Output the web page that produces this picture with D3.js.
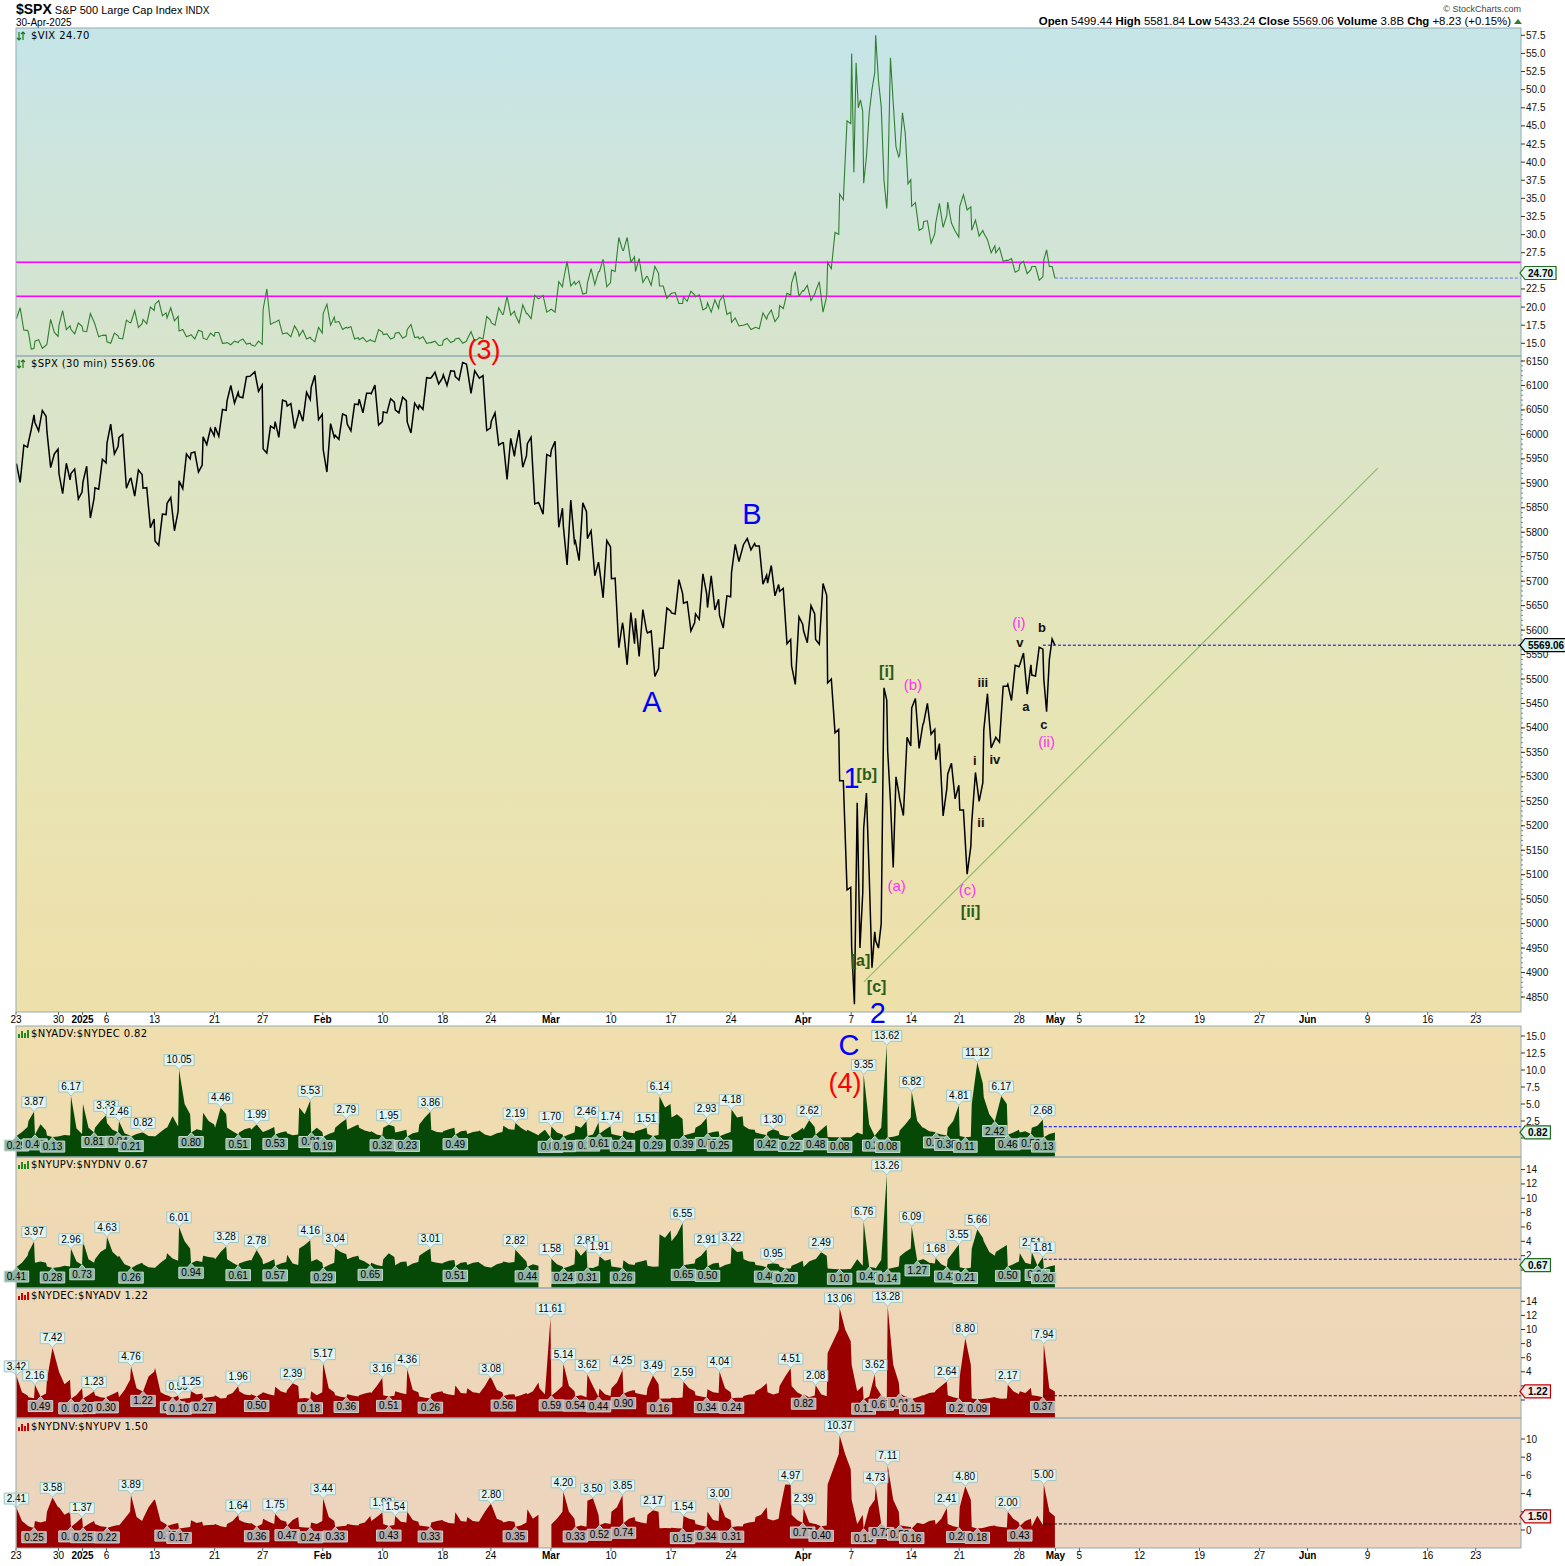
<!DOCTYPE html>
<html><head><meta charset="utf-8">
<script src="https://cdn.jsdelivr.net/npm/d3@7/dist/d3.min.js"></script>
<style>
body{margin:0;background:#fff}
svg{display:block}
text{font-family:"Liberation Sans",Arial,sans-serif}
.ttl{font-family:"DejaVu Sans",sans-serif;font-size:10px;letter-spacing:0.4px}
</style>
</head><body>
<svg id="c" width="1565" height="1566"></svg>
<script>
// ---------------- DATA ----------------
const holidays = ["2024-12-25","2025-01-01","2025-01-09","2025-01-20","2025-02-17","2025-04-18","2025-05-26","2025-06-19"];
const halfDays = {"2024-12-24":7};

const tickDates = ["2024-12-23","2024-12-30","2025-01-02","2025-01-06","2025-01-13","2025-01-21","2025-01-27","2025-02-03","2025-02-10","2025-02-18","2025-02-24","2025-03-03","2025-03-10","2025-03-17","2025-03-24","2025-04-01","2025-04-07","2025-04-14","2025-04-21","2025-04-28","2025-05-01","2025-05-05","2025-05-12","2025-05-19","2025-05-27","2025-06-02","2025-06-09","2025-06-16","2025-06-23"];
const tickLabels = ["23","30","2025","6","13","21","27","Feb","10","18","24","Mar","10","17","24","Apr","7","14","21","28","May","5","12","19","27","Jun","9","16","23"];

const vixTicks = [15,17.5,20,22.5,25,27.5,30,32.5,35,37.5,40,42.5,45,47.5,50,52.5,55,57.5];
const spxTicks = [4850,4900,4950,5000,5050,5100,5150,5200,5250,5300,5350,5400,5450,5500,5550,5600,5650,5700,5750,5800,5850,5900,5950,6000,6050,6100,6150];
const p1Ticks = [0,2.5,5,7.5,10,12.5,15];
const p2Ticks = [0,2,4,6,8,10,12,14];
const p3Ticks = [0,2,4,6,8,10,12,14];
const p4Ticks = [0,2,4,6,8,10];

// SPX 30-min path, sampled per session (intraday order)
const spx = [
[5940,5902,5978,5974],[5984,6010,6040],[6024,6007,6049,6037],[6006,5932,5960,5970],[5920,5879,5941,5907],
[5920,5929,5868,5882],[5903,5935,5829,5869],[5891,5888,5949,5942],[5982,6021,5960,5975],[5994,6000,5890,5909],
[5910,5874,5927,5918],[5890,5891,5809,5827],[5782,5773,5837,5836],[5859,5871,5803,5843],[5905,5889,5960,5950],
[5962,5964,5923,5937],[5995,5979,6012,5997],[6015,5996,6051,6049],[6069,6100,6064,6086],[6077,6075,6118,6119],
[6121,6128,6088,6101],[5970,5962,6017,6012],[6026,5994,6070,6067],[6058,6063,6012,6039],[6050,6027,6086,6071],
[6096,6121,6030,6041],[5969,5923,6022,5994],[5998,5990,6042,6038],[6021,6007,6062,6061],[6072,6044,6084,6084],
[6083,6101,6019,6026],[6046,6044,6073,6066],[6050,6044,6076,6069],[6025,6003,6064,6052],[6060,6051,6116,6115],
[6116,6127,6103,6115],[6122,6100,6130,6129],[6118,6111,6147,6144],[6134,6084,6130,6118],[6115,6120,6008,6013],
[6027,6044,5978,5983],[5983,5908,5992,5955],[5970,6009,5933,5956],[5981,5994,5858,5861],[5857,5837,5959,5955],
[5968,5986,5810,5849],[5811,5733,5866,5778],[5782,5742,5860,5842],[5787,5803,5711,5739],[5726,5666,5783,5770],
[5705,5706,5564,5615],[5603,5529,5636,5572],[5624,5546,5642,5599],[5594,5598,5505,5522],[5563,5563,5645,5639],
[5635,5633,5703,5675],[5655,5658,5598,5615],[5633,5622,5715,5675],[5646,5711,5641,5663],[5630,5604,5670,5668],
[5718,5775,5740,5768],[5775,5787,5764,5777],[5772,5772,5694,5712],[5696,5732,5670,5693],[5679,5685,5572,5581],
[5527,5489,5627,5612],[5598,5574,5650,5633],[5581,5571,5695,5671],[5492,5500,5390,5397],[5292,5292,5069,5074],
[4953,4835,5247,4950,5062],[5194,5267,5100,4910,4983],[4965,4950,5000,5482,5457],[5353,5250,5115,5300,5268],[5255,5221,5381,5363],
[5441,5460,5358,5406],[5411,5450,5387,5397],[5335,5368,5220,5276],[5306,5328,5255,5283],[5232,5232,5101,5158],
[5207,5309,5250,5288],[5395,5470,5359,5376],[5381,5371,5485,5485],[5489,5456,5528,5525],[5529,5553,5469,5529],
[5508,5506,5565,5561],[5499,5433,5540,5582,5569.06]
];

// VIX 30-min path, sampled per session
const vix = [
[18.4,19.9,16.8,16.78],[16.5,14.2,14.27],[15.3,15.5,14.3,14.73],[14.9,18.3,16.5,15.95],[17.5,19.5,16.9,17.4],
[16.9,16.3,17.8,17.35],[16.7,16.6,19.1,17.93],[17.6,15.9,16.1,16.13],[15.2,15.0,16.4,16.04],[15.7,15.6,18.2,17.82],
[17.9,19.5,17.2,17.7],[18.3,17.7,20.0,19.54],[20.4,20.9,18.8,19.19],[18.5,19.9,18.1,18.71],[16.7,16.9,15.9,16.12],
[16.2,15.6,16.8,16.6],[15.7,15.5,16.4,15.97],[16.5,16.5,15.0,15.06],[15.1,14.8,15.3,15.1],[15.3,15.6,14.9,15.02],
[14.8,14.6,15.3,14.85],[19.7,22.5,17.6,17.9],[17.9,18.2,16.3,16.41],[16.4,15.9,17.4,16.56],[16.0,16.8,15.6,15.84],
[15.6,15.2,17.2,16.43],[19.1,20.4,17.5,18.62],[17.9,18.0,16.9,17.21],[17.1,17.3,15.6,15.77],[15.5,15.8,15.2,15.5],
[15.4,15.2,16.9,16.54],[16.2,16.3,15.6,15.81],[16.4,16.5,15.7,16.02],[16.9,17.6,15.8,15.89],[15.6,15.9,15.0,15.1],
[15.1,15.3,14.7,14.77],[15.4,15.7,15.1,15.35],[15.6,15.7,15.0,15.27],[15.6,16.6,15.3,15.66],[15.8,15.6,18.7,18.21],
[17.8,17.5,19.9,18.98],[19.0,21.5,18.9,19.43],[18.9,17.8,20.3,19.1],[19.1,18.4,21.6,21.13],[21.2,21.6,19.3,19.63],
[19.7,19.3,23.5,22.78],[23.7,26.3,22.9,23.51],[23.1,23.6,21.8,21.93],[23.3,25.3,23.1,24.87],[24.9,26.6,22.8,23.37],
[25.1,24.9,29.6,27.86],[27.8,29.6,26.2,26.92],[24.9,26.7,23.4,24.23],[24.2,23.0,25.6,24.66],[22.9,22.9,21.2,21.77],
[21.9,22.0,20.5,20.51],[21.4,20.8,22.2,21.7],[21.4,21.7,19.6,19.9],[20.6,19.3,21.0,19.8],[20.8,21.6,19.0,19.28],
[17.9,18.5,17.4,17.48],[17.5,17.7,16.9,17.15],[17.2,17.0,19.2,18.33],[18.8,19.6,18.0,18.69],[20.2,19.8,21.9,21.65],
[23.3,24.9,21.5,22.28],[22.2,23.0,20.9,21.77],[22.2,23.5,19.3,21.51],[26.2,25.3,30.3,30.02],[35.6,34.8,45.7,45.31],
[55.0,38.6,53.7,47.5,48.6,46.98],[37.1,40.7,46.8,50.0,52.33],[57.5,51.3,47.7,37.5,33.62],[36.2,54.4,48.2,42.1,40.72],[41.0,46.8,44.0,37.0,37.56],
[33.9,34.4,30.6,30.89],[31.8,31.9,28.8,30.12],[31.6,34.3,31.0,32.64],[34.5,31.6,30.5,29.65],[33.9,35.5,33.4,33.82],
[30.6,32.0,29.8,30.57],[30.2,29.3,27.5,28.45],[27.5,28.2,26.3,26.47],[26.4,26.7,24.8,25.1],[25.9,26.3,24.6,25.15],
[25.6,25.6,23.7,24.17],[26.5,27.9,25.6,25.6,24.0]
];

// $NYADV:$NYDEC intraday samples per session (start, middle, end)
const advDec = [
[0.29,0.9,1.6],[2.5,3.2,3.87],[0.46,2.04,1.1],[0.35,0.135,0.22],[0.25,0.45,0.35],
[6.17,1.4,0.6],[5.0,1.5,0.81],[1.5,2.5,3.33],[2.2,1.2,0.84],[2.46,0.7,0.35],
[0.21,0.6,0.8],[0.82,0.3,0.25],[0.22,0.9,1.5],[1.5,3.2,1.69],[10.05,5.0,3.5],
[0.80,1.3,1.1],[3.7,2.5,2.0],[1.5,4.46,3.5],[1.5,1.0,0.51],[0.8,1.3,1.5],
[1.2,1.99,1.0],[0.9,1.2,1.6],[0.53,0.8,1.0],[0.7,0.42,0.5],[4.5,3.5,5.53],
[0.81,1.5,0.9],[0.19,0.6,0.9],[1.5,2.2,2.79],[1.2,1.6,2.0],[1.5,1.1,0.9],
[1.0,0.5,0.32],[1.5,1.95,1.7],[0.8,1.0,1.2],[0.23,0.7,0.9],[2.0,3.0,3.86],
[1.2,0.9,0.8],[1.0,1.3,1.5],[0.49,1.0,1.1],[0.6,0.9,1.0],[1.1,0.5,0.3],
[0.325,0.7,0.9],[1.79,1.3,1.2],[2.19,1.5,1.0],[1.2,0.8,0.4],[0.6,1.2,0.086],
[1.70,0.8,0.5],[0.195,0.5,0.8],[1.85,1.5,2.46],[0.276,0.5,2.27],[0.61,1.2,1.74],
[0.6,0.4,0.235],[1.11,0.8,0.7],[1.0,1.2,1.51],[0.6,0.287,0.45],[6.14,4.5,5.0],
[3.0,3.5,2.8],[0.386,0.6,0.8],[1.5,2.0,2.93],[0.65,0.9,1.0],[0.2475,0.6,0.9],
[4.18,3.0,3.2],[1.8,1.3,1.2],[0.8,0.6,0.42],[0.9,1.30,1.0],[0.5,0.3,0.222],
[0.5,0.9,1.5],[1.22,2.62,1.6],[0.48,1.2,1.9],[0.15,0.12,0.1],[0.0766,0.1,0.12],
[0.2,0.8,0.5],[9.35,2.0,0.276],[0.5,1.5,13.62],[0.0753,0.2,0.4],[1.1,2.0,3.0],
[6.82,2.5,1.5],[1.5,1.0,0.9],[0.74,0.5,0.379],[1.5,2.5,4.81],[0.3,0.114,0.2],
[5.0,11.12,8.0],[6.0,3.5,2.42],[3.0,6.17,5.0],[0.46,0.8,1.2],[0.8,1.0,0.59],
[1.5,1.8,2.68],[0.126,0.6,0.82]
];

// $NYUPV:$NYDNV intraday samples per session (start, middle, end)
const upDnVol = [
[0.41,1.0,2.0],[2.5,3.2,3.97],[1.0,1.2,1.0],[0.5,0.28,0.4],[0.4,0.6,0.5],
[2.96,1.2,0.73],[4.0,1.5,1.0],[1.5,2.5,3.0],[4.63,2.5,1.8],[2.0,0.8,0.5],
[0.26,0.7,1.0],[0.8,0.4,0.3],[0.3,1.0,1.6],[2.33,1.6,1.3],[6.01,4.0,3.0],
[0.94,1.3,1.1],[2.0,1.8,1.7],[1.5,2.5,3.28],[1.5,1.0,0.61],[0.9,1.2,1.4],
[1.3,2.78,1.5],[0.8,1.1,1.5],[0.57,0.9,1.1],[2.13,0.9,0.7],[3.0,3.5,4.16],
[1.2,1.5,1.0],[0.29,0.7,1.0],[3.04,2.5,2.2],[1.5,1.8,2.0],[1.5,1.2,0.65],
[1.0,0.7,0.52],[1.5,2.33,1.8],[0.65,1.1,1.2],[0.5,0.9,1.1],[2.0,2.5,3.01],
[1.2,1.0,0.9],[1.0,1.3,1.4],[0.51,1.0,1.1],[0.7,1.0,1.1],[1.0,0.5,0.35],
[0.357,0.8,1.0],[1.2,1.0,1.1],[2.82,2.0,1.2],[0.44,0.8,0.6],[null,null,null],
[1.58,0.8,0.5],[0.238,0.5,0.8],[3.0,2.0,2.81],[0.31,0.286,0.6],[1.91,1.3,1.5],
[0.5,0.4,0.26],[1.35,0.8,0.7],[1.0,1.2,1.4],[0.6,0.46,0.5],[5.0,4.5,5.5],
[4.0,5.0,6.55],[0.65,0.8,0.9],[1.5,2.0,2.91],[0.50,0.9,1.0],[0.33,0.7,0.9],
[3.22,2.5,2.6],[1.5,1.2,1.1],[0.7,0.6,0.40],[0.8,0.95,0.8],[0.5,0.20,0.201],
[0.6,0.9,1.3],[0.418,1.2,1.5],[1.5,2.49,2.0],[0.2,0.15,0.12],[0.0964,0.12,0.15],
[0.3,1.5,0.6],[6.76,0.41,0.3],[0.211,1.39,13.26],[0.1406,0.3,0.5],[1.89,2.5,3.0],
[6.09,1.27,1.5],[1.5,1.0,0.9],[1.68,0.8,0.415],[1.5,2.5,3.55],[0.4,0.208,0.3],
[3.0,5.66,4.5],[4.0,2.5,2.0],[2.5,3.0,3.5],[0.50,0.8,1.2],[2.33,1.0,0.8],
[2.51,0.64,1.81],[0.20,0.5,0.67]
];
// last intraday bar readings (dashed markers)
const advDecLastBar = 1.66, upDnVolLastBar = 1.5;

// peak / trough labels: [session index, sample (0 start,1 mid,2 end), value]
const p1Peaks = [[1,2,3.87],[5,0,6.17],[7,2,3.33],[9,0,2.46],[11,0,0.82],[14,0,10.05],[17,1,4.46],[20,1,1.99],[24,2,5.53],[27,2,2.79],[31,1,1.95],[34,2,3.86],[42,0,2.19],[45,0,1.70],[47,2,2.46],[49,2,1.74],[52,2,1.51],[54,0,6.14],[57,2,2.93],[60,0,4.18],[63,1,1.30],[66,1,2.62],[71,0,9.35],[72,2,13.62],[75,0,6.82],[78,2,4.81],[80,1,11.12],[82,1,6.17],[85,2,2.68]];
const p1Troughs = [[0,0,0.29],[2,0,0.46],[3,1,0.13],[6,2,0.81],[8,2,0.84],[10,0,0.21],[15,0,0.80],[18,2,0.51],[22,0,0.53],[25,0,0.81],[26,0,0.19],[30,2,0.32],[33,0,0.23],[37,0,0.49],[44,2,0.09],[46,0,0.19],[48,0,0.28],[49,0,0.61],[50,2,0.24],[53,1,0.29],[56,0,0.39],[58,0,0.65],[59,0,0.25],[62,2,0.42],[64,2,0.22],[67,0,0.48],[69,0,0.08],[71,2,0.28],[73,0,0.08],[77,0,0.74],[77,2,0.38],[79,1,0.11],[81,2,2.42],[83,0,0.46],[84,2,0.59],[86,0,0.13]];
const p2Peaks = [[1,2,3.97],[5,0,2.96],[8,0,4.63],[14,0,6.01],[17,2,3.28],[20,1,2.78],[24,2,4.16],[27,0,3.04],[34,2,3.01],[42,0,2.82],[45,0,1.58],[47,2,2.81],[49,0,1.91],[55,2,6.55],[57,2,2.91],[60,0,3.22],[63,1,0.95],[67,1,2.49],[71,0,6.76],[72,2,13.26],[75,0,6.09],[77,0,1.68],[78,2,3.55],[80,1,5.66],[85,0,2.51],[85,2,1.81]];
const p2Troughs = [[0,0,0.41],[3,1,0.28],[5,2,0.73],[10,0,0.26],[15,0,0.94],[18,2,0.61],[22,0,0.57],[26,0,0.29],[29,2,0.65],[37,0,0.51],[43,0,0.44],[46,0,0.24],[48,0,0.31],[50,2,0.26],[56,0,0.65],[58,0,0.50],[62,2,0.40],[64,1,0.20],[69,0,0.10],[71,1,0.41],[73,0,0.14],[75,1,1.27],[77,2,0.42],[79,1,0.21],[83,0,0.50],[85,1,0.64],[86,0,0.20]];
const p3Peaks = [[0,0,3.42],[2,0,2.16],[3,1,7.42],[6,2,1.23],[10,0,4.76],[13,2,0.59],[15,0,1.25],[18,2,1.96],[23,1,2.39],[26,0,5.17],[30,2,3.16],[33,0,4.36],[40,0,3.08],[44,2,11.61],[46,0,5.14],[48,0,3.62],[50,2,4.25],[53,1,3.49],[56,0,2.59],[59,0,4.04],[64,2,4.51],[67,0,2.08],[69,0,13.06],[71,2,3.62],[73,0,13.28],[77,2,2.64],[79,1,8.80],[83,0,2.17],[86,0,7.94]];
const p3Troughs = [[2,1,0.49],[5,0,0.16],[6,0,0.20],[7,2,0.30],[11,0,1.22],[13,1,0.31],[14,0,0.10],[16,0,0.27],[20,1,0.50],[24,2,0.18],[27,2,0.36],[31,1,0.51],[34,2,0.26],[41,0,0.56],[45,0,0.59],[47,0,0.54],[48,2,0.44],[51,0,0.90],[54,0,0.16],[57,2,0.34],[60,0,0.24],[66,0,0.82],[71,0,0.11],[72,1,0.67],[74,0,0.91],[75,0,0.15],[78,2,0.21],[80,1,0.09],[85,2,0.37]];
const p4Peaks = [[0,0,2.41],[3,1,3.58],[5,2,1.37],[10,0,3.89],[18,2,1.64],[22,0,1.75],[26,0,3.44],[30,2,1.93],[32,0,1.54],[40,0,2.80],[46,0,4.20],[48,1,3.50],[50,2,3.85],[53,1,2.17],[56,0,1.54],[59,0,3.00],[64,2,4.97],[66,0,2.39],[69,0,10.37],[72,0,4.73],[73,0,7.11],[77,2,2.41],[79,1,4.80],[83,0,2.00],[86,0,5.00]];
const p4Troughs = [[1,2,0.25],[5,0,0.34],[6,0,0.25],[8,0,0.22],[13,0,0.43],[14,0,0.17],[20,1,0.36],[23,0,0.47],[24,2,0.24],[27,0,0.33],[31,1,0.43],[34,2,0.33],[42,0,0.35],[47,0,0.33],[49,0,0.52],[51,0,0.74],[55,2,0.15],[57,2,0.34],[60,0,0.31],[65,2,0.77],[67,1,0.40],[71,0,0.15],[72,1,0.72],[74,0,0.53],[75,0,0.16],[78,2,0.28],[80,1,0.18],[84,0,0.43]];

// Elliott wave annotations: text, session position, SPX level, degree
const waveText   = ["(3)","A","B","(4)","C","1","2","[a]","[b]","[c]","[i]","[ii]","(a)","(b)","(c)","(i)","(ii)","i","ii","iii","iv","v","a","b","c"];
const wavePos    = [39.42,53.41,61.73,69.48,69.81,70.03,72.22,70.78,71.3,72.12,72.95,79.94,73.78,75.14,79.69,83.96,86.27,80.3,80.8,80.96,81.96,84.05,84.55,85.88,86.05];
const waveLevel  = [6172,5453,5837,4674,4752,5298,4817,4924,5304,4871,5515,5024,5077,5488,5069,5615,5373,5334,5206,5492,5336,5574,5443,5606,5407];
const waveDegree = ["P","I","I","P","I","I","I","m","m","m","m","m","u","u","u","u","u","s","s","s","s","s","s","s","s"];
// trend line: [session position, level]
const trendFrom = [71.06,4881], trendTo = [113.85,5931];
// VIX horizontal levels
const vixLevels = [26.18,21.5];

// ---------------- LAYOUT / STYLE ----------------
const L = 16, R = 1521;
const waveStyle = {
  P:{fill:"#ff0000",size:27,weight:"normal"},
  I:{fill:"#0000ff",size:29,weight:"normal"},
  m:{fill:"#2c5a18",size:16,weight:"bold"},
  u:{fill:"#ff33ee",size:15,weight:"normal"},
  s:{fill:"#111",size:13,weight:"bold"}
};

const svg = d3.select("#c");
svg.append("rect").attr("width",1565).attr("height",1566).attr("fill","#fff");
const defs = svg.append("defs");
function grad(id, stops){
  const g = defs.append("linearGradient").attr("id",id).attr("x1",0).attr("y1",0).attr("x2",0).attr("y2",1);
  stops.forEach(([o,c])=>g.append("stop").attr("offset",o).attr("stop-color",c));
}
grad("gVix",[[0,"#c5e5e8"],[1,"#d8e4cc"]]);
grad("gSpx",[[0,"#d8e4cd"],[0.5,"#e6e5b7"],[1,"#efe0aa"]]);
grad("gP1",[[0,"#efdeae"],[1,"#efdcb1"]]);
grad("gP2",[[0,"#efdbb2"],[1,"#eed8b6"]]);
grad("gP3",[[0,"#eed8b7"],[1,"#edd6bb"]]);
grad("gP4",[[0,"#edd6bb"],[1,"#ecd4bf"]]);

// calendar of sessions
const hol = new Set(holidays);
const days = []; let bar = 0;
for (let d = new Date(Date.UTC(2024,11,23)); d <= new Date(Date.UTC(2025,5,27)); d.setUTCDate(d.getUTCDate()+1)) {
  const wd = d.getUTCDay(); if (wd===0 || wd===6) continue;
  const key = d.toISOString().slice(0,10); if (hol.has(key)) continue;
  const n = halfDays[key] || 13;
  days.push({key, start:bar, n}); bar += n;
}
const dayIndex = new Map(days.map((d,i)=>[d.key,i]));
const x = d3.scaleLinear().domain([0,1629]).range([L,R]);
const sampleX = (di,k,m) => { const d = days[di]; return x(d.start + 0.5 + (m>1 ? k/(m-1) : 0)*(d.n-1)); };
const posX = f => { const i = Math.floor(f), d = days[i]; return x(d.start + (f-i)*d.n); };

const panels = {
  vix:{top:28,bottom:356,y:d3.scaleLinear().domain([15,57.5]).range([343.3,35.3]),fill:"url(#gVix)"},
  spx:{top:356,bottom:1012,y:d3.scaleLinear().domain([4850,6150]).range([997,361]),fill:"url(#gSpx)"},
  p1:{top:1026,bottom:1157,y:d3.scaleLinear().domain([0,15]).range([1138,1036]),fill:"url(#gP1)"},
  p2:{top:1157,bottom:1288,y:d3.scaleLinear().domain([0,14]).range([1270,1169.6]),fill:"url(#gP2)"},
  p3:{top:1288,bottom:1418,y:d3.scaleLinear().domain([0,14]).range([1400,1301.3]),fill:"url(#gP3)"},
  p4:{top:1418,bottom:1548,y:d3.scaleLinear().domain([0,10]).range([1530,1439]),fill:"url(#gP4)"}
};
Object.entries(panels).forEach(([k,p])=>{
  svg.append("rect").attr("x",L).attr("y",p.top).attr("width",R-L).attr("height",p.bottom-p.top).attr("fill",p.fill);
  defs.append("clipPath").attr("id","cl"+k).append("rect").attr("x",L).attr("y",p.top).attr("width",R-L).attr("height",p.bottom-p.top);
});

// ---------------- HEADER ----------------
const hd = svg.append("text").attr("x",16).attr("y",14).attr("font-size",11);
hd.append("tspan").attr("font-weight","bold").attr("font-size",14).text("$SPX");
hd.append("tspan").text(" S&P 500 Large Cap Index ");
hd.append("tspan").attr("font-size",10).text(" INDX");
svg.append("text").attr("x",16).attr("y",26).attr("font-size",10).text("30-Apr-2025");
svg.append("text").attr("x",1521).attr("y",12).attr("text-anchor","end").attr("font-size",9).attr("fill","#444").text("\u00a9 StockCharts.com");
const ohlc = svg.append("text").attr("x",1511).attr("y",25).attr("text-anchor","end").attr("font-size",11.4);
[["Open","5499.44"],["High","5581.84"],["Low","5433.24"],["Close","5569.06"],["Volume","3.8B"],["Chg","+8.23 (+0.15%)"]].forEach(([a,b],i)=>{
  ohlc.append("tspan").attr("font-weight","bold").text((i?"  ":"")+a+" ");
  ohlc.append("tspan").text(b);
});
svg.append("path").attr("d","M1514,24 L1518,19 L1522,24 Z").attr("fill","#2e7d32");

// ---------------- VIX ----------------
const gv = svg.append("g").attr("clip-path","url(#clvix)");
vixLevels.forEach(v=>gv.append("line").attr("x1",L).attr("x2",R).attr("y1",panels.vix.y(v)).attr("y2",panels.vix.y(v)).attr("stroke","#ff00ff").attr("stroke-width",1.6));
const vixPts = []; vix.forEach((vals,di)=>vals.forEach((v,k)=>vixPts.push([sampleX(di,k,vals.length),panels.vix.y(v)])));
gv.append("path").attr("d",d3.line()(vixPts)).attr("fill","none").attr("stroke","#2f7f2f").attr("stroke-width",1.1);
const vLast = vix[vix.length-1][vix[vix.length-1].length-1];
gv.append("line").attr("x1",vixPts[vixPts.length-1][0]).attr("x2",R).attr("y1",panels.vix.y(vLast)).attr("y2",panels.vix.y(vLast)).attr("stroke","#6a72ff").attr("stroke-dasharray","3,2");

// ---------------- SPX ----------------
const gs = svg.append("g").attr("clip-path","url(#clspx)");
const spxPts = []; spx.forEach((vals,di)=>vals.forEach((v,k)=>spxPts.push([sampleX(di,k,vals.length),panels.spx.y(v)])));
gs.append("line").attr("x1",posX(trendFrom[0])).attr("y1",panels.spx.y(trendFrom[1])).attr("x2",posX(trendTo[0])).attr("y2",panels.spx.y(trendTo[1])).attr("stroke","#8dbd6a").attr("stroke-width",1.2);
gs.append("path").attr("d",d3.line()(spxPts)).attr("fill","none").attr("stroke","#000").attr("stroke-width",1.5);
const sLast = spx[spx.length-1][spx[spx.length-1].length-1];
gs.append("line").attr("x1",sampleX(85,3,4)).attr("x2",R).attr("y1",panels.spx.y(sLast)).attr("y2",panels.spx.y(sLast)).attr("stroke","#0000ff").attr("stroke-dasharray","3,2");

// ---------------- BREADTH ----------------
const recip = arr => arr.map(d=>d.map(v=>v==null?null:1/v));
const breadth = [
  {key:"p1",data:advDec,peaks:p1Peaks,troughs:p1Troughs,color:"#064806",tfill:"#90b4a4",tstroke:"#c3dcd0",last:advDecLastBar,dash:"#0000ff"},
  {key:"p2",data:upDnVol,peaks:p2Peaks,troughs:p2Troughs,color:"#064806",tfill:"#90b4a4",tstroke:"#c3dcd0",last:upDnVolLastBar,dash:"#0000ff"},
  {key:"p3",data:recip(advDec),peaks:p3Peaks,troughs:p3Troughs,color:"#9a0000",tfill:"#b3a9a7",tstroke:"#d6cfcd",last:1/advDecLastBar,dash:"#000"},
  {key:"p4",data:recip(upDnVol),peaks:p4Peaks,troughs:p4Troughs,color:"#9a0000",tfill:"#b3a9a7",tstroke:"#d6cfcd",last:1/upDnVolLastBar,dash:"#000"}
];
breadth.forEach(b=>{
  const p = panels[b.key];
  const g = svg.append("g").attr("clip-path","url(#cl"+b.key+")");
  const pts = []; b.data.forEach((vals,di)=>vals.forEach((v,k)=>pts.push({x:sampleX(di,k,vals.length),v})));
  const area = d3.area().defined(d=>d.v!=null).x(d=>d.x).y0(p.bottom).y1(d=>p.y(Math.min(d.v,30)));
  g.append("path").attr("d",area(pts)).attr("fill",b.color);
  g.append("line").attr("x1",sampleX(86,0,3)).attr("x2",R).attr("y1",p.y(b.last)).attr("y2",p.y(b.last)).attr("stroke",b.dash).attr("stroke-dasharray","3,2");
});
const labelLayer = svg.append("g");
breadth.forEach(b=>{
  const p = panels[b.key];
  b.troughs.forEach(([di,k,v])=>tag(labelLayer,sampleX(di,k,3),p.y(v),v.toFixed(2),false,b.tfill,b.tstroke));
  b.peaks.forEach(([di,k,v])=>tag(labelLayer,sampleX(di,k,3),p.y(v),v.toFixed(2),true,"#e2f4f2","#9fc6c4"));
});
function tag(g,px,py,txt,peak,fill,stroke){
  const gg = g.append("g");
  const path = gg.append("path");
  const t = gg.append("text").attr("x",px).attr("text-anchor","middle").attr("font-size",10).attr("fill","#000").text(txt);
  const w = t.node().getComputedTextLength()+5, h=11;
  if (peak){
    const yb = py-4;
    t.attr("y",yb-2.2);
    path.attr("d",`M${px-w/2},${yb-h}H${px+w/2}V${yb}H${px+3.5}L${px},${py}L${px-3.5},${yb}H${px-w/2}Z`);
  } else {
    const yt = py+4;
    t.attr("y",yt+9);
    path.attr("d",`M${px-w/2},${yt}H${px-3.5}L${px},${py}L${px+3.5},${yt}H${px+w/2}V${yt+h}H${px-w/2}Z`);
  }
  path.attr("fill",fill).attr("stroke",stroke).attr("stroke-width",1);
}

// ---------------- BORDERS & AXES ----------------
Object.values(panels).forEach(p=>{
  svg.append("rect").attr("x",L).attr("y",p.top).attr("width",R-L).attr("height",p.bottom-p.top).attr("fill","none").attr("stroke","#93abb3").attr("stroke-width",1);
});
function rightAxis(p,ticks,fmt,boxVal,minor){
  const g = svg.append("g");
  if (minor) minor.forEach(v=>g.append("line").attr("x1",R).attr("x2",R+2).attr("y1",p.y(v)).attr("y2",p.y(v)).attr("stroke","#6f8a92"));
  ticks.forEach(v=>{
    g.append("line").attr("x1",R).attr("x2",R+4).attr("y1",p.y(v)).attr("y2",p.y(v)).attr("stroke","#333");
    if (Math.abs(p.y(v)-p.y(boxVal))<9) return;
    g.append("text").attr("x",R+5).attr("y",p.y(v)+3.5).attr("font-size",10).attr("fill","#111").text(fmt(v));
  });
}
rightAxis(panels.vix,vixTicks,d3.format(".1f"),24.70);
rightAxis(panels.spx,spxTicks,d3.format("d"),5569.06,d3.range(4850,6151,10));
rightAxis(panels.p1,p1Ticks,d3.format(".1f"),0.82);
rightAxis(panels.p2,p2Ticks,d3.format("d"),0.67);
rightAxis(panels.p3,p3Ticks,d3.format("d"),1.22);
rightAxis(panels.p4,p4Ticks,d3.format("d"),1.50);

function priceBox(yv,txt,stroke,fill){
  const g = svg.append("g");
  const path = g.append("path");
  const t = g.append("text").attr("x",R+7).attr("y",yv+3.6).attr("font-size",10).attr("font-weight","bold").text(txt);
  const w = t.node().getComputedTextLength()+5;
  path.attr("d",`M${R-1},${yv}L${R+4},${yv-6.5}H${R+5+w}V${yv+6.5}H${R+4}Z`).attr("fill",fill).attr("stroke",stroke).attr("stroke-width",1.2);
}
priceBox(panels.vix.y(24.70),"24.70","#1f6b1f","#e3f6f0");
priceBox(panels.spx.y(5569.06),"5569.06","#000","#d2f2f2");
priceBox(panels.p1.y(0.82),"0.82","#1f6b1f","#e3f6f0");
priceBox(panels.p2.y(0.67),"0.67","#1f6b1f","#e3f6f0");
priceBox(panels.p3.y(1.22),"1.22","#c00000","#f5eaea");
priceBox(panels.p4.y(1.50),"1.50","#c00000","#f5eaea");

function dateAxis(y0){
  tickDates.forEach((dk,i)=>{
    const xi = x(days[dayIndex.get(dk)].start);
    svg.append("line").attr("x1",xi).attr("x2",xi).attr("y1",y0).attr("y2",y0+3).attr("stroke","#666");
    svg.append("text").attr("x",xi).attr("y",y0+11).attr("text-anchor","middle").attr("font-size",10)
      .attr("font-weight",/^\d{1,2}$/.test(tickLabels[i])?"normal":"bold").text(tickLabels[i]);
  });
}
dateAxis(1012);
dateAxis(1548);

// panel titles
function title(y,txt,kind){
  const g = svg.append("g");
  if (kind==="arrows"){
    g.append("path").attr("d",`M19,${y-7}V${y+1}M17,${y-1}L19,${y+1}L21,${y-1}M23,${y+1}V${y-7}M21,${y-5}L23,${y-7}L25,${y-5}`).attr("stroke","#1a7a1a").attr("fill","none").attr("stroke-width",1.2);
  } else {
    const c = kind==="green"?"#1d8a1d":"#d40000";
    [[18,4],[21,7],[24,5],[27,8]].forEach(([xx,hh])=>g.append("rect").attr("x",xx).attr("y",y+1-hh).attr("width",2).attr("height",hh).attr("fill",c));
  }
  g.append("text").attr("class","ttl").attr("x",31).attr("y",y).text(txt);
}
title(39,"$VIX 24.70","arrows");
title(367,"$SPX (30 min) 5569.06","arrows");
title(1037,"$NYADV:$NYDEC 0.82","green");
title(1168,"$NYUPV:$NYDNV 0.67","green");
title(1299,"$NYDEC:$NYADV 1.22","red");
title(1430,"$NYDNV:$NYUPV 1.50","red");

// Elliott wave labels
waveText.forEach((t,i)=>{
  const s = waveStyle[waveDegree[i]];
  svg.append("text").attr("x",posX(wavePos[i])).attr("y",panels.spx.y(waveLevel[i])).attr("text-anchor","middle")
    .attr("dominant-baseline","central").attr("font-size",s.size).attr("font-weight",s.weight).attr("fill",s.fill).text(t);
});
</script>
</body></html>
